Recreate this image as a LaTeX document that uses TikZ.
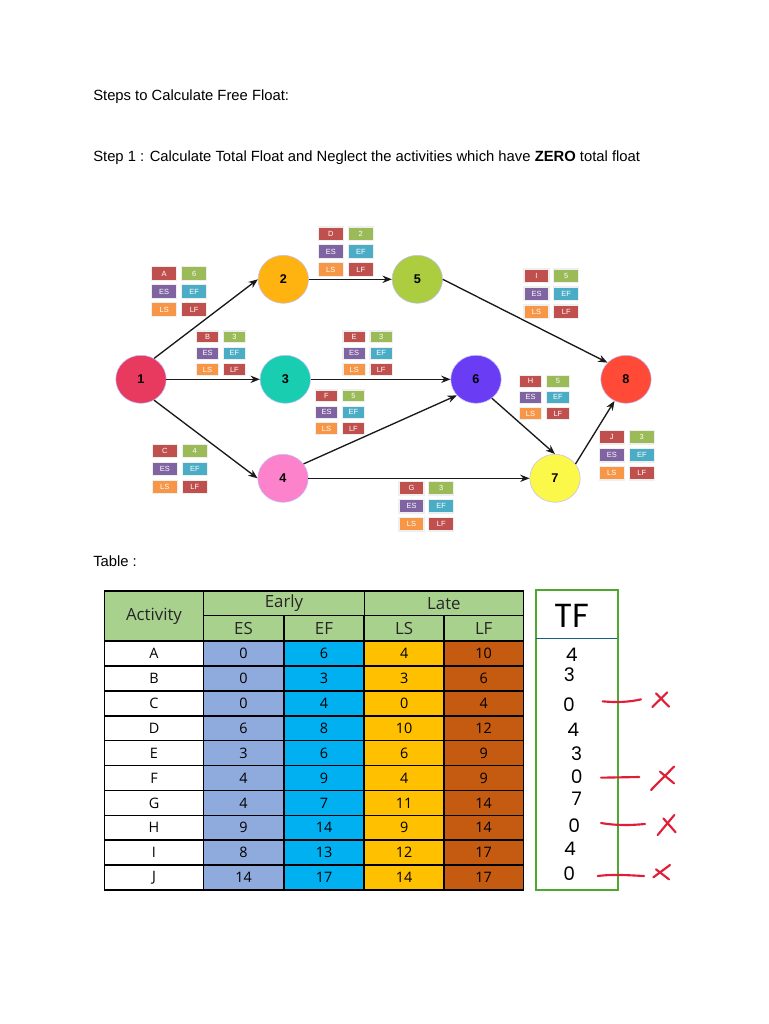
\documentclass[tikz,border=0pt]{standalone}
\usepackage{fontspec}
\setmainfont{Liberation Sans}
\newfontfamily\tabfont{Open Sans}
\newfontfamily\handfont{Poppins}
\usetikzlibrary{arrows.meta,shapes.geometric}
\definecolor{mred}{HTML}{C0504D}
\definecolor{mgreen}{HTML}{9BBB59}
\definecolor{mpurple}{HTML}{8064A2}
\definecolor{mteal}{HTML}{4BACC6}
\definecolor{morange}{HTML}{F79646}
\definecolor{thead}{HTML}{A9D18E}
\definecolor{tes}{HTML}{8FAADC}
\definecolor{tef}{HTML}{00B0F0}
\definecolor{tls}{HTML}{FFC000}
\definecolor{tlf}{HTML}{C55A11}
\definecolor{tfgreen}{HTML}{4EA72E}
\definecolor{tfblue}{HTML}{156082}
\definecolor{inkred}{HTML}{E01E37}
\definecolor{halo}{HTML}{EFEFEF}
\tikzset{
  pnode/.style={ellipse,inner sep=0pt,minimum width=37.8pt,minimum height=36pt,draw=blue!25!white,line width=.4pt,font=\fontsize{9.5}{10}\selectfont\bfseries},
  link/.style={draw=black!90,line width=1pt,-{Stealth[length=7pt,width=5.5pt]}},
  mcell/.style={rectangle,inner sep=0pt,outer sep=0pt,anchor=north west,draw=halo,line width=.9pt,text=white,font=\fontsize{5.6}{6}\selectfont},
  tcell/.style={rectangle,inner sep=0pt,outer sep=0pt,draw=black,line width=1.2pt,font=\tabfont\fontsize{10.8}{12}\selectfont,text=black},
  thead/.style={tcell,fill=thead,font=\tabfont\fontsize{12.6}{14}\selectfont,text=black!85},
  bodytext/.style={anchor=west,inner sep=0pt,font=\fontsize{11.1}{13}\selectfont,text=black},
  hand/.style={inner sep=0pt,font=\handfont\fontsize{14}{15}\selectfont},
  redmark/.style={draw=inkred,line width=1.6pt,line cap=round,line join=round},
}
% id, x1, x2, y1, pitch, w, h, label, dur
\newcommand{\minitab}[9]{
  \node[mcell,fill=mred,minimum width=.75*#6pt,minimum height=.75*#7pt] (#1-a) at (#2,#4) {#8};
  \node[mcell,fill=mgreen,minimum width=.75*#6pt,minimum height=.75*#7pt] (#1-b) at (#3,#4) {#9};
  \node[mcell,fill=mpurple,minimum width=.75*#6pt,minimum height=.75*#7pt] (#1-c) at (#2,#4+#5) {ES};
  \node[mcell,fill=mteal,minimum width=.75*#6pt,minimum height=.75*#7pt] (#1-d) at (#3,#4+#5) {EF};
  \node[mcell,fill=morange,minimum width=.75*#6pt,minimum height=.75*#7pt] (#1-e) at (#2,#4+2*#5) {LS};
  \node[mcell,fill=mred,minimum width=.75*#6pt,minimum height=.75*#7pt] (#1-f) at (#3,#4+2*#5) {LF};
}
\begin{document}
\begin{tikzpicture}[x=.75pt,y=-.75pt]
\useasboundingbox (0,0) rectangle (768,1024);
\fill[white] (0,0) rectangle (768,1024);

\node[bodytext] (t1) at (93,96.5) {Steps to Calculate Free Float:};
\node[bodytext] (t2) at (93,157.5) {Step 1 : Calculate Total Float and Neglect the activities which have \textbf{ZERO} total float};
\node[bodytext] (t3) at (93,561) {Table :};

% mini tables
\minitab{mA}{151.7}{181.7}{266.7}{18}{25}{13.5}{A}{6}
\minitab{mD}{318.3}{348.3}{227}{17.85}{25}{13.5}{D}{2}
\minitab{mB}{196.3}{223.2}{331}{16.3}{22.4}{11.8}{B}{3}
\minitab{mE}{343}{370}{331}{16.3}{22.4}{11.8}{E}{3}
\minitab{mF}{315.3}{342.2}{390}{16.3}{22.4}{11.8}{F}{5}
\minitab{mC}{152.3}{182.3}{444.3}{17.9}{25}{13.3}{C}{4}
\minitab{mI}{524}{553.7}{269}{18}{25}{13.3}{I}{5}
\minitab{mH}{519.3}{546.7}{375.3}{16.2}{22.4}{11.8}{H}{5}
\minitab{mJ}{599.3}{629.3}{430.7}{18}{25}{13.2}{J}{3}
\minitab{mG}{399}{428.7}{481.7}{18}{25}{13.2}{G}{3}

% network
\node[pnode,fill={rgb,255:red,232;green,58;blue,95}] (n1) at (141,379.3) {1};
\node[pnode,fill={rgb,255:red,255;green,179;blue,16}] (n2) at (283.3,279.3) {2};
\node[pnode,fill={rgb,255:red,25;green,205;blue,176}] (n3) at (285.3,379.3) {3};
\node[pnode,fill={rgb,255:red,251;green,130;blue,203}] (n4) at (283,478.3) {4};
\node[pnode,fill={rgb,255:red,171;green,205;blue,63}] (n5) at (417.3,279.3) {5};
\node[pnode,fill={rgb,255:red,106;green,61;blue,245}] (n6) at (476,379.3) {6};
\node[pnode,fill={rgb,255:red,251;green,248;blue,74}] (n7) at (555,478.3) {7};
\node[pnode,fill={rgb,255:red,255;green,74;blue,56}] (n8) at (626,379.3) {8};

\draw[link] (n1.58) -- (n2.west);
\draw[link] (n1.east) -- (n3.west);
\draw[link] (n1.-58) -- (n4.west);
\draw[link] (n2.east) -- (n5.west);
\draw[link] (n3.east) -- (n6.west);
\draw[link] (n4.35) -- (n6.-140);
\draw[link] (n4.east) -- (n7.west);
\draw[link] (n5.east) -- (n8.138);
\draw[link] (n6.-50) -- (n7.north);
\draw[link] (n7.35) -- (n8.-118);

% table
\def\cxa{154}\def\cxb{243.5}\def\cxc{324}\def\cxd{404.2}\def\cxe{483.7}
\node[thead,minimum width=74.25pt,minimum height=37.5pt] (hact) at (\cxa,616) {Activity};
\node[thead,minimum width=120.75pt,minimum height=18.5pt] (hearly) at (284,603.3) {Early};
\node[thead,minimum width=119.25pt,minimum height=18.5pt] (hlate) at (443.9,603.3) {Late};
\node[thead,minimum width=60pt,minimum height=19pt] (hes) at (\cxb,628.3) {ES};
\node[thead,minimum width=60.4pt,minimum height=19pt] (hef) at (\cxc,628.3) {EF};
\node[thead,minimum width=59.6pt,minimum height=19pt] (hls) at (\cxd,628.3) {LS};
\node[thead,minimum width=59.6pt,minimum height=19pt] (hlf) at (\cxe,628.3) {LF};
\foreach \ra/\rb/\rc/\rd/\re [count=\i from 0] in {A/0/6/4/10,B/0/3/3/6,C/0/4/0/4,D/6/8/10/12,E/3/6/6/9,F/4/9/4/9,G/4/7/11/14,H/9/14/9/14,I/8/13/12/17,J/14/17/14/17}{
  \node[tcell,fill=white,minimum width=74.25pt,minimum height=18.7pt] (ra\i) at (\cxa,653.5+24.9*\i) {\ra};
  \node[tcell,fill=tes,minimum width=60pt,minimum height=18.7pt] (rb\i) at (\cxb,653.5+24.9*\i) {\rb};
  \node[tcell,fill=tef,minimum width=60.4pt,minimum height=18.7pt] (rc\i) at (\cxc,653.5+24.9*\i) {\rc};
  \node[tcell,fill=tls,minimum width=59.6pt,minimum height=18.7pt] (rd\i) at (\cxd,653.5+24.9*\i) {\rd};
  \node[tcell,fill=tlf,minimum width=59.6pt,minimum height=18.7pt] (re\i) at (\cxe,653.5+24.9*\i) {\re};
}

% TF column
\draw[tfgreen,line width=1.3pt] (535.7,590) rectangle (617.7,890);
\draw[tfblue,line width=1pt] (536,638.7) -- (617,638.7);
\node[hand,font=\handfont\fontsize{25}{26}\selectfont] (tf) at (571.7,616) {TF};
\foreach \dg/\dx/\dy [count=\k] in {4/571.7/655,3/569.3/674.8,0/569/704.3,4/573.3/730,3/576.7/754,0/576.7/776.7,7/576.7/798.3,0/574.3/825.7,4/570/849.3,0/569.3/874}{
  \node[hand] (d\k) at (\dx,\dy) {\dg};
}

% red strike marks
\begin{scope}[shift={(520,580)},x=.25pt,y=-.25pt]
\draw[redmark] (248,364) .. controls (290,368) and (330,366) .. (363,358);
\draw[redmark] (397,381) -- (442,337);
\draw[redmark] (408,340) -- (447,380);
\draw[redmark] (243,593) -- (358,591);
\draw[redmark] (393,630) -- (462,560);
\draw[redmark] (420,575) -- (462,610);
\draw[redmark] (243,729) .. controls (290,737) and (330,736) .. (375,732);
\draw[redmark] (413,765) -- (463,705);
\draw[redmark] (430,715) -- (467,757);
\draw[redmark] (233,888) .. controls (280,882) and (330,886) .. (372,888);
\draw[redmark] (400,892) -- (450,855);
\draw[redmark] (408,868) -- (447,898);
\end{scope}
\end{tikzpicture}
\end{document}
